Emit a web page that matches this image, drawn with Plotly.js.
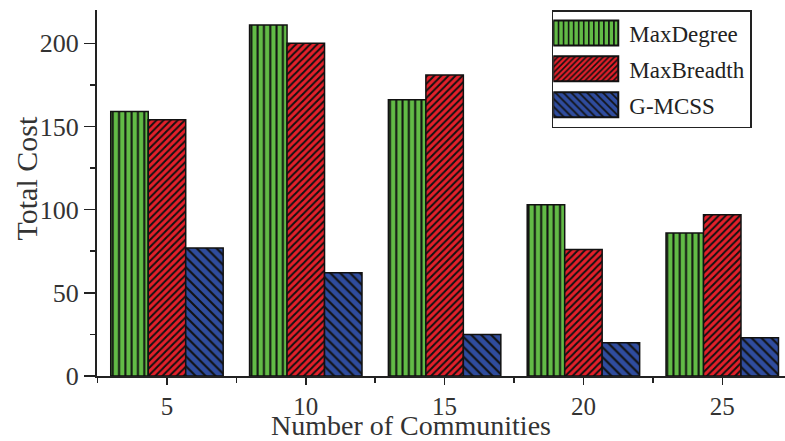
<!DOCTYPE html>
<html>
<head>
<meta charset="utf-8">
<script src="https://cdn.plot.ly/plotly-3.0.1.min.js"></script>
<style>
  html, body { margin: 0; padding: 0; background: #fff; }
  #chart { width: 785px; height: 441px; }
</style>
</head>
<body>
<div id="chart"></div>
<script>
// Total cost per algorithm vs. number of communities
const communities = [5, 10, 15, 20, 25];
const maxDegree   = [159, 211, 166, 103, 86];
const maxBreadth  = [154, 200, 181, 76, 97];
const gMcss       = [77, 62, 25, 20, 23];

const seriesNames = ['MaxDegree', 'MaxBreadth', 'G-MCSS'];
const yTicks = [0, 50, 100, 150, 200];

const FONT = 'Liberation Serif, Times New Roman, serif';
const INK = '#222';

function barTrace(name, values, color, shape, size, solidity) {
  return {
    type: 'bar',
    name: name,
    legendgroup: name,
    x: communities,
    y: values,
    marker: {
      color: color,
      line: { color: '#111', width: 1.5 },
      pattern: {
        shape: shape, bgcolor: color, fgcolor: '#111', fgopacity: 1,
        size: size, solidity: solidity, fillmode: 'replace'
      }
    },
    hoverinfo: 'x+y+name'
  };
}

const data = [
  barTrace(seriesNames[0], maxDegree,  '#62bb46', '|',  6.3, 0.32),
  barTrace(seriesNames[1], maxBreadth, '#e3202a', '/',  5,   0.4),
  barTrace(seriesNames[2], gMcss,      '#2f4c9e', '\\', 7,   0.3)
];

const layout = {
  width: 785,
  height: 441,
  margin: { l: 97, r: 0, t: 10, b: 65 },
  paper_bgcolor: '#fff',
  plot_bgcolor: '#fff',
  font: { family: FONT, color: '#333', size: 26 },
  barmode: 'group',
  bargap: 0.19,
  bargroupgap: 0,
  showlegend: true,
  legend: {
    x: 0.661, y: 1.0, xanchor: 'left', yanchor: 'top',
    bgcolor: '#fff', bordercolor: INK, borderwidth: 1.5,
    font: { family: FONT, size: 23, color: '#222' },
    itemwidth: 66,
    tracegroupgap: 3,
    traceorder: 'grouped'
  },
  xaxis: {
    range: [2.48, 27.26],
    tickvals: communities,
    ticktext: communities.map(String),
    ticks: 'outside', ticklen: 7, tickwidth: 1.5, tickcolor: INK,
    minor: { ticks: 'outside', ticklen: 5, tickwidth: 1.5, tickcolor: INK, dtick: 5, tick0: 2.5 },
    showline: true, linecolor: INK, linewidth: 2,
    showgrid: false, zeroline: false,
    tickfont: { family: FONT, size: 25, color: '#333' }
  },
  xaxis2: {
    matches: 'x', overlaying: 'x', anchor: 'y', side: 'top',
    tickvals: communities, showticklabels: false,
    ticks: 'inside', ticklen: 8, tickwidth: 1.5, tickcolor: INK,
    minor: { ticks: 'inside', ticklen: 5, tickwidth: 1.5, tickcolor: INK, dtick: 5, tick0: 2.5 },
    showline: true, linecolor: INK, linewidth: 2,
    showgrid: false, zeroline: false
  },
  yaxis: {
    range: [0, 220],
    tickvals: yTicks,
    ticks: 'outside', ticklen: 11, tickwidth: 1.5, tickcolor: INK,
    minor: { ticks: 'outside', ticklen: 5, tickwidth: 1.5, tickcolor: INK, dtick: 50, tick0: 25 },
    showline: true, linecolor: INK, linewidth: 2,
    showgrid: false, zeroline: false,
    tickfont: { family: FONT, size: 26, color: '#333' }
  },
  yaxis2: {
    matches: 'y', overlaying: 'y', anchor: 'x', side: 'right',
    tickvals: yTicks, showticklabels: false,
    ticks: 'inside', ticklen: 5, tickwidth: 1.5, tickcolor: INK,
    showline: false, showgrid: false, zeroline: false
  },
  annotations: [
    {
      text: 'Number of Communities', xref: 'paper', yref: 'paper',
      x: 0.457, y: -0.181, xanchor: 'center', yanchor: 'bottom',
      borderpad: 0,
      showarrow: false, font: { family: FONT, size: 28, color: '#333' }
    },
    {
      text: 'Total Cost', xref: 'paper', yref: 'paper', textangle: -90,
      x: -0.103, y: 0.54, xanchor: 'center', yanchor: 'middle',
      showarrow: false, font: { family: FONT, size: 30, color: '#333' }
    }
  ]
};

// Widen the legend swatches into wide rectangles to the left of each label
function widenLegendSwatches(gd) {
  const items = gd.querySelectorAll('.legend .traces');
  items.forEach(function (item) {
    const path = item.querySelector('.legendpoints path');
    const text = item.querySelector('text.legendtext');
    if (!path || !text) return;
    const bb = path.getBBox();
    const pr = path.getBoundingClientRect();
    const tr = text.getBoundingClientRect();
    const w = 65, h = 25;
    const screenLeft = tr.left - 11 - w;
    const localLeft = bb.x + (screenLeft - pr.left);
    const localCy = bb.y + bb.height / 2;
    path.setAttribute('d',
      'M' + localLeft + ',' + (localCy - h / 2) +
      'h' + w + 'v' + h + 'h' + (-w) + 'Z');
    path.style.strokeWidth = '2px';
  });
}

const gd = document.getElementById('chart');
Plotly.newPlot(gd, data, layout, { displayModeBar: false, staticPlot: true })
  .then(function () { widenLegendSwatches(gd); });
</script>
</body>
</html>
